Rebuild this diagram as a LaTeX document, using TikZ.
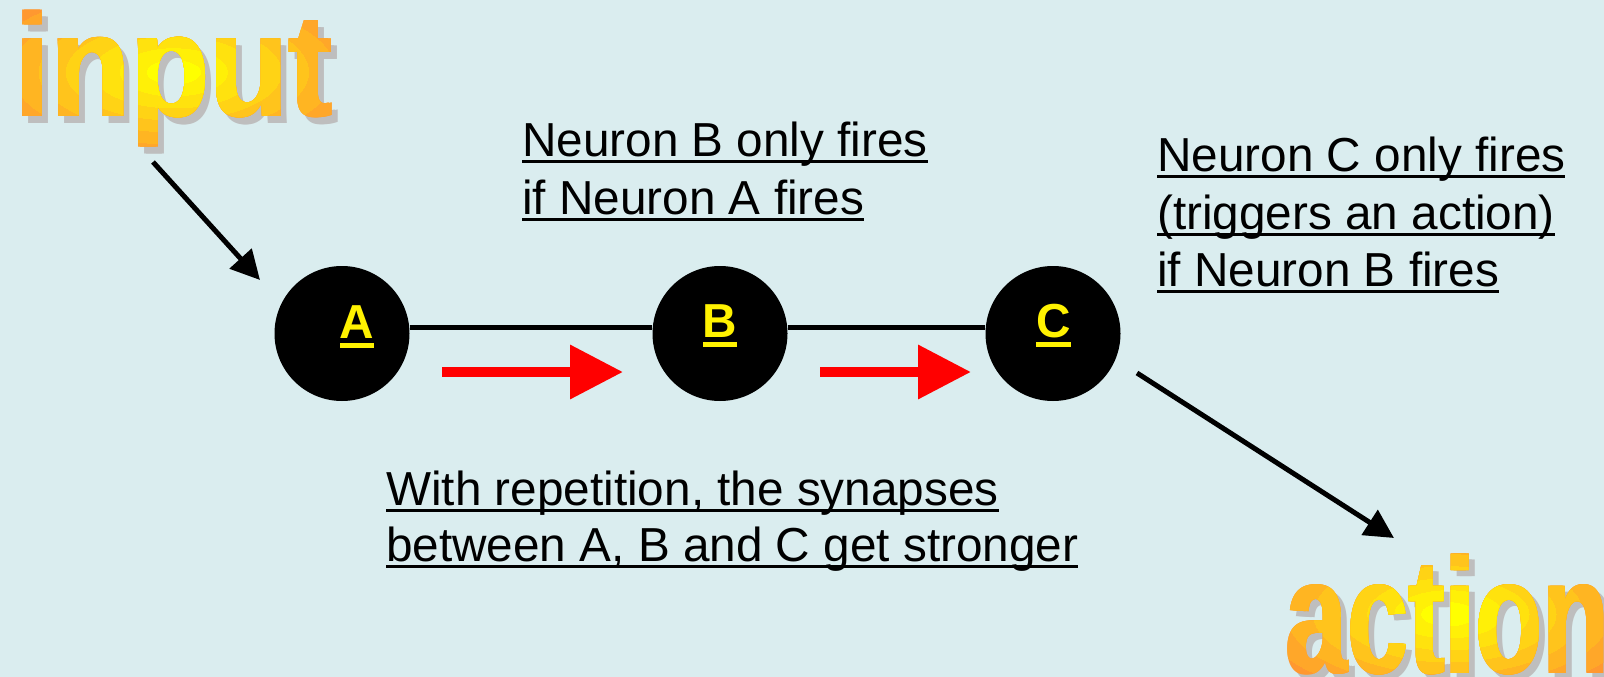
\documentclass[tikz,border=0pt]{standalone}
\usepackage{fontspec}
\setmainfont{Liberation Sans}
\usetikzlibrary{arrows.meta}
\definecolor{bg}{RGB}{218,237,239}
\definecolor{wordorange}{RGB}{255,152,48}
\definecolor{wordyellow}{RGB}{255,255,0}
\definecolor{shadowgray}{RGB}{190,190,190}
\newcommand\ulT[1]{\setbox0=\hbox{#1}\rlap{\rule[-6.5pt]{\wd0}{3pt}}\box0}
\newcommand\ulB[1]{\setbox0=\hbox{#1}\rlap{\rule[-10.3pt]{\wd0}{5.5pt}}\box0}
\newcommand\inputword{\fontsize{100}{100}\selectfont\bfseries\scalebox{1.30}[1.47]{input}}
\newcommand\actionword{\fontsize{100}{100}\selectfont\bfseries\scalebox{1.10}[1.65]{action}}
\tikzset{
  neuron/.style={circle,fill=black,minimum size=135pt,inner sep=0pt},
  nlabel/.style={inner sep=0pt,anchor=base,text=yellow,font=\fontsize{47.7}{57.5}\selectfont\bfseries},
  txt/.style={inner sep=0pt,anchor=base west,text=black,font=\fontsize{47.7}{57.5}\selectfont},
  link/.style={line width=5pt,black},
  redarrow/.style={line width=10pt,red,-{Triangle[length=53pt,width=52pt]}},
  blackarrow/.style={line width=5pt,black,-{Triangle[length=29pt,width=29pt]}},
  bigword/.style={inner sep=0pt,anchor=base},
}
\begin{document}
\begin{tikzpicture}[x=1pt,y=-1pt]
\fill[bg] (0,0) rectangle (1604,677);
\useasboundingbox (0,0) rectangle (1604,677);

% ---- "input": shadow, then radial colour layers
\foreach \dx/\j in {-1.2/a,1.2/b}
  \node[bigword,text=shadowgray] (insh\j) at (173.5+6+\dx,117+6) {\inputword};
\foreach \k in {8,7,...,1}{
  \pgfmathsetmacro\pct{100*(\k-1)/7}
  \begin{scope}
    \clip (173.5,72) ellipse [x radius=\k*27, y radius=\k*12];
    \foreach \dx/\j in {-1.2/a,1.2/b}
      \node[bigword,text=wordorange!\pct!wordyellow] (in\k\j) at (173.5+\dx,117) {\inputword};
  \end{scope}
}

% ---- "action"
\foreach \dx/\j in {-1.2/a,1.2/b}
  \node[bigword,text=shadowgray] (acsh\j) at (1448+6+\dx,673+6) {\actionword};
\foreach \k in {8,7,...,1}{
  \pgfmathsetmacro\pct{100*(\k-1)/7}
  \begin{scope}
    \clip (1448,614) ellipse [x radius=\k*27, y radius=\k*12];
    \foreach \dx/\j in {-1.2/a,1.2/b}
      \node[bigword,text=wordorange!\pct!wordyellow] (ac\k\j) at (1448+\dx,673) {\actionword};
  \end{scope}
}

% neurons
\node[neuron] (A) at (342,333.5) {};
\node[neuron] (B) at (720,333.5) {};
\node[neuron] (C) at (1053,333.5) {};
\draw[link] ([yshift=6.5pt]A.east) -- ([yshift=6.5pt]B.west);
\draw[link] ([yshift=6.5pt]B.east) -- ([yshift=6.5pt]C.west);
\node[nlabel] (Al) at (357,338) {\ulB{A}};
\node[nlabel] (Bl) at (720,337) {\ulB{B}};
\node[nlabel] (Cl) at (1053.5,337) {\ulB{C}};

% red arrows
\coordinate (r1s) at (442,372);
\coordinate (r1e) at (623,372);
\coordinate (r2s) at (820,372);
\coordinate (r2e) at (971,372);
\draw[redarrow] (r1s) -- (r1e);
\draw[redarrow] (r2s) -- (r2e);

% black arrows
\coordinate (ins) at (153,162);
\coordinate (ine) at (260,280);
\coordinate (acs) at (1137,373);
\coordinate (ace) at (1394,538);
\draw[blackarrow] (ins) -- (ine);
\draw[blackarrow] (acs) -- (ace);

% texts
\node[txt] (tb1) at (522,156.7) {\ulT{Neuron B only fires}};
\node[txt] (tb2) at (522,214.2) {\ulT{if Neuron A fires}};
\node[txt] (tc1) at (1157,171.7) {\ulT{Neuron C only fires}};
\node[txt] (tc2) at (1157,229.2) {\ulT{(triggers an action)}};
\node[txt] (tc3) at (1157,286.7) {\ulT{if Neuron B fires}};
\node[txt] (tr1) at (386,505) {\ulT{With repetition, the synapses}};
\node[txt] (tr2) at (386,561.7) {\ulT{between A, B and C get stronger}};
\end{tikzpicture}
\end{document}
